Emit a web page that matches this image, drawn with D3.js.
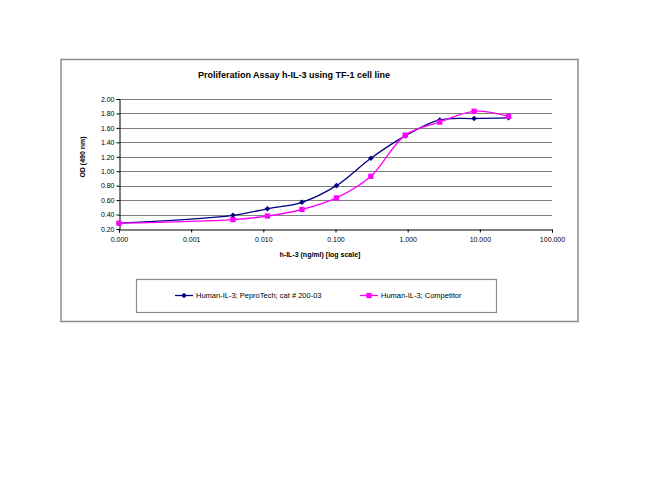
<!DOCTYPE html>
<html>
<head>
<meta charset="utf-8">
<script src="https://cdn.jsdelivr.net/npm/d3@7.9.0/dist/d3.min.js"></script>
<style>
  body { margin: 0; background: #fff; }
  svg { display: block; font-family: Arial, "Liberation Sans", sans-serif; }
</style>
</head>
<body>
<svg id="chart" width="650" height="502"></svg>
<script>
// concentrations (ng/ml); first point is the blank, shown at the left edge
const dose = [0.0001, 0.0038, 0.0114, 0.0343, 0.103, 0.309, 0.926, 2.78, 8.33, 25];
const peprotech = [0.28, 0.39, 0.48, 0.57, 0.80, 1.18, 1.49, 1.71, 1.73, 1.74];
const competitor = [0.28, 0.33, 0.38, 0.47, 0.63, 0.93, 1.50, 1.68, 1.83, 1.76];
const xTicks = [0.0001, 0.001, 0.01, 0.1, 1, 10, 100];
const yTicks = [0.2, 0.4, 0.6, 0.8, 1.0, 1.2, 1.4, 1.6, 1.8, 2.0];
const seriesNames = ['Human-IL-3; PeproTech; cat # 200-03', 'Human-IL-3; Competitor'];

const svg = d3.select('#chart');

// outer chart frame
svg.append('rect')
  .attr('x', 61).attr('y', 59.5).attr('width', 517).attr('height', 262)
  .attr('fill', '#fff').attr('stroke', '#8c8c8c').attr('stroke-width', 1.5);

const x = d3.scaleLog().domain([0.0001, 100]).range([119, 552]);
const y = d3.scaleLinear().domain([0.2, 2.0]).range([229, 99]);

// horizontal gridlines
svg.append('g').selectAll('line')
  .data(yTicks.slice(1))
  .join('line')
  .attr('x1', 119).attr('x2', 552)
  .attr('y1', d => Math.round(y(d)) + 0.5).attr('y2', d => Math.round(y(d)) + 0.5)
  .attr('stroke', '#808080');

// y axis
const yAxis = svg.append('g')
  .attr('transform', 'translate(119.5,0)')
  .call(d3.axisLeft(y).tickValues(yTicks).tickFormat(d3.format('.2f')).tickSize(3));
yAxis.select('.domain').attr('stroke', '#000');
yAxis.selectAll('text').attr('font-size', 7).attr('fill', '#000').attr('x', -5);

// x axis
const xAxis = svg.append('g')
  .attr('transform', 'translate(0,229.5)')
  .call(d3.axisBottom(x).tickValues(xTicks).tickFormat(d3.format('.3f')).tickSize(3));
xAxis.select('.domain').attr('stroke', '#000');
xAxis.selectAll('text').attr('font-size', 7).attr('fill', '#000').attr('dy', '0.9em');

// titles
svg.append('text')
  .attr('x', 294).attr('y', 78)
  .attr('text-anchor', 'middle').attr('font-size', 9).attr('font-weight', 'bold')
  .text('Proliferation Assay h-IL-3 using TF-1 cell line');

svg.append('text')
  .attr('x', 320).attr('y', 257)
  .attr('text-anchor', 'middle').attr('font-size', 7).attr('font-weight', 'bold')
  .text('h-IL-3 (ng/ml) [log scale]');

svg.append('text')
  .attr('transform', 'translate(85,157) rotate(-90)')
  .attr('text-anchor', 'middle').attr('font-size', 7).attr('font-weight', 'bold')
  .text('OD (490 nm)');

// series
const line = d3.line()
  .x(d => x(d[0]))
  .y(d => y(d[1]))
  .curve(d3.curveCatmullRom.alpha(0.5));

const series = [
  { values: peprotech, color: '#000080', shape: d3.symbolDiamond2, size: 20 },
  { values: competitor, color: '#ff00ff', shape: d3.symbolSquare, size: 28 }
];

series.forEach(s => {
  const pts = dose.map((d, i) => [d, s.values[i]]);
  svg.append('path')
    .attr('d', line(pts))
    .attr('fill', 'none').attr('stroke', s.color).attr('stroke-width', 1.3);
  svg.append('g').selectAll('path')
    .data(pts)
    .join('path')
    .attr('transform', d => `translate(${x(d[0])},${y(d[1])})`)
    .attr('d', d3.symbol(s.shape, s.size))
    .attr('fill', s.color);
});

// legend
svg.append('rect')
  .attr('x', 136.5).attr('y', 279.5).attr('width', 360).attr('height', 33)
  .attr('fill', '#fff').attr('stroke', '#8c8c8c').attr('stroke-width', 1.2);

const legendX = [175, 360];
series.forEach((s, i) => {
  const g = svg.append('g').attr('transform', `translate(${legendX[i]},295.5)`);
  g.append('line').attr('x1', 0).attr('x2', 18)
    .attr('stroke', s.color).attr('stroke-width', 1.3);
  g.append('path').attr('transform', 'translate(9,0)')
    .attr('d', d3.symbol(s.shape, s.size)).attr('fill', s.color);
  g.append('text').attr('x', 21).attr('y', 2.5)
    .attr('font-size', 7.5).attr('fill', '#000')
    .text(seriesNames[i]);
});
</script>
</body>
</html>
